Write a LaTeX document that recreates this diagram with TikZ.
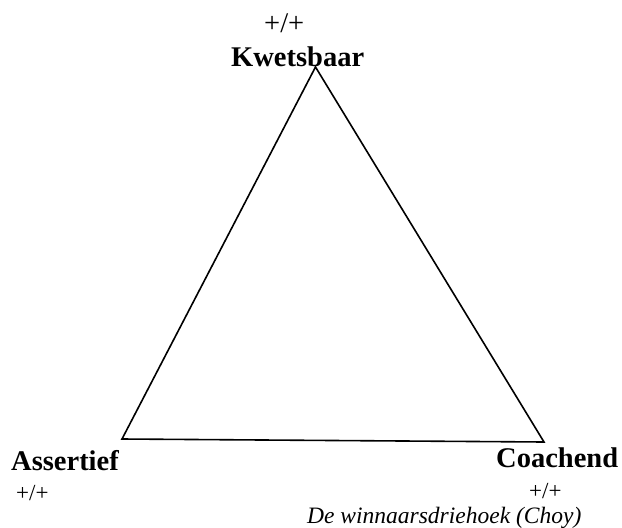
\documentclass[tikz,border=0pt]{standalone}
\usepackage{fontspec}
\setmainfont{Liberation Serif}
\begin{document}
\begin{tikzpicture}[x=1pt,y=-1pt,
  lbl/.style={inner sep=0pt,anchor=base west,font=\fontsize{28.5}{30}\selectfont\bfseries},
  sgn/.style={inner sep=0pt,anchor=base west,font=\fontsize{#1}{#1}\selectfont},
  captxt/.style={inner sep=0pt,anchor=base west,font=\fontsize{23.5}{25}\selectfont\itshape},
  edge/.style={line width=1.6pt,line join=miter}]
\useasboundingbox (0,0) rectangle (622,528);
\coordinate (top) at (315.5,67);
\coordinate (bl) at (122,439);
\coordinate (br) at (544,442);
\draw[edge] (top) -- (br) -- (bl) -- cycle;
\node[sgn=28.5] (ptop) at (264,32) {+/+};
\node[lbl] (kw) at (231,66) {Kwetsbaar};
\node[lbl] (as) at (11,470) {Assertief};
\node[sgn=23] (pbl) at (16,500) {+/+};
\node[lbl] (co) at (496,467) {Coachend};
\node[sgn=23] (pbr) at (529,498) {+/+};
\node[captxt] (cp) at (307,523) {De winnaarsdriehoek (Choy)};
\end{tikzpicture}
\end{document}
